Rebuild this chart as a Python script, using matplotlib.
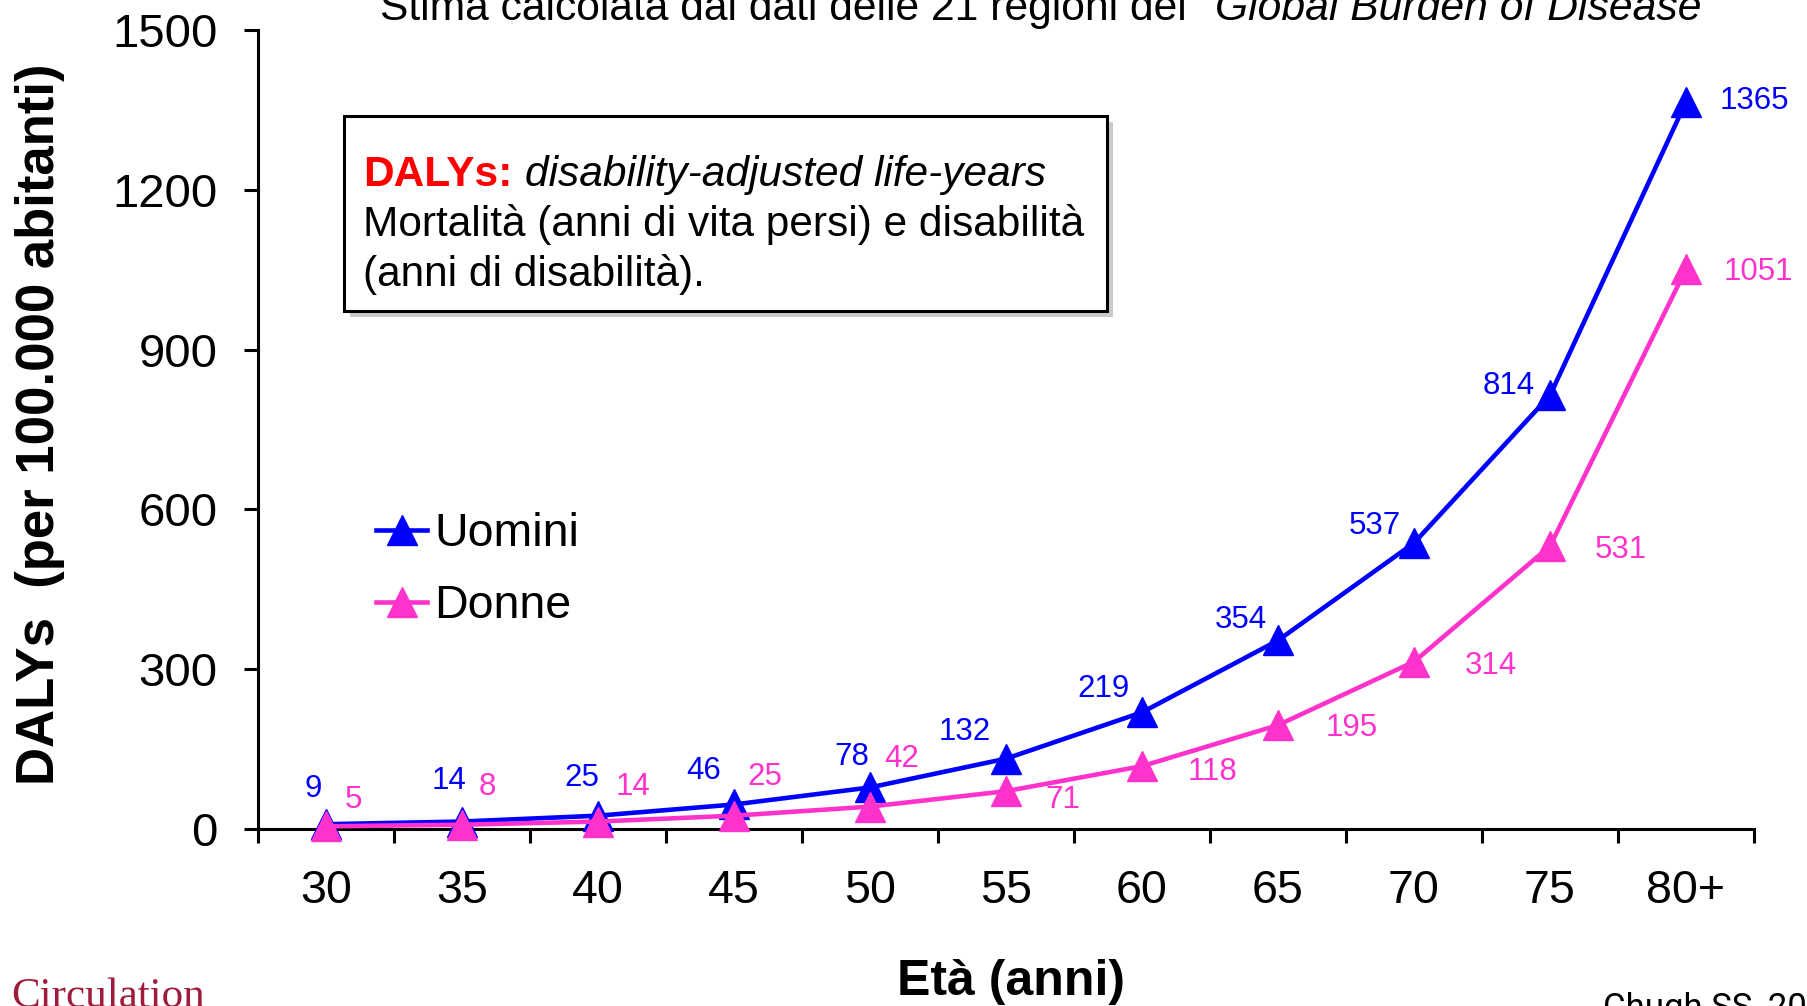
import matplotlib
matplotlib.use('Agg')
import matplotlib.pyplot as plt
from matplotlib.patches import Rectangle
from matplotlib.text import Annotation

plt.rcParams['font.family'] = ['Liberation Sans', 'DejaVu Sans']

# data
eta = ['30', '35', '40', '45', '50', '55', '60', '65', '70', '75', '80+']
uomini = [9, 14, 25, 46, 78, 132, 219, 354, 537, 814, 1365]
donne = [5, 8, 14, 25, 42, 71, 118, 195, 314, 531, 1051]
y_ticks = [0, 300, 600, 900, 1200, 1500]

# label offsets in points (dx, dy)
off_u = [(-9, 25), (-9, 29), (-12, 27), (-22, 24), (-13, 22), (-30, 19),
         (-28, 17), (-27, 15), (-28, 12), (-30, 7), (49, 1)]
off_d = [(20, 19), (18, 27), (25, 25), (22, 28), (23, 34), (41, -6),
         (51, -4), (53, -2), (55, -3), (51, -3), (52, -2)]

BLUE = '#0000ff'
PINK = '#ff33cc'

W, H = 1808, 1006


def fx(px):
    return px / W


def fy(py):
    return 1 - py / H


fig = plt.figure(figsize=(W / 100, H / 100), dpi=100)
ax = fig.add_axes([fx(258), fy(829), (1754 - 258) / W, (829 - 30) / H])

x = list(range(len(eta)))
ax.plot(x, uomini, color=BLUE, lw=3.3, marker='^', ms=21, mew=1,
        label='Uomini', clip_on=False, zorder=3)
ax.plot(x, donne, color=PINK, lw=3.3, marker='^', ms=21, mew=1,
        label='Donne', clip_on=False, zorder=4)

for i in x:
    ax.annotate(str(uomini[i]), (i, uomini[i]), xytext=off_u[i],
                textcoords='offset points', ha='center', va='center',
                color=BLUE, fontsize=22.5)
    ax.annotate(str(donne[i]), (i, donne[i]), xytext=off_d[i],
                textcoords='offset points', ha='center', va='center',
                color=PINK, fontsize=22.5)

ax.set_xlim(-0.5, len(eta) - 0.5)
ax.set_ylim(0, 1500)
ax.set_yticks(y_ticks)
ax.set_xticks([i - 0.5 for i in range(len(eta) + 1)])
ax.set_xticklabels([])
ax.set_xticks(x, minor=True)
ax.set_xticklabels(eta, minor=True)
ax.tick_params(axis='x', which='major', direction='out', length=10, width=2.2)
ax.tick_params(axis='x', which='minor', length=0, pad=28.5, labelsize=33.5)
ax.tick_params(axis='y', direction='out', length=10, width=2.2, pad=19,
               labelsize=34)
for s in ['top', 'right']:
    ax.spines[s].set_visible(False)
for s in ['left', 'bottom']:
    ax.spines[s].set_linewidth(2.2)

ax.legend(loc='center left', bbox_to_anchor=(fx(376), fy(570)),
          bbox_transform=fig.transFigure, frameon=False, fontsize=33.5,
          handlelength=1.1, handletextpad=0.15, labelspacing=0.6,
          borderpad=0, borderaxespad=0)

# axis titles
fig.text(fx(40), fy(424), 'DALYs  (per 100.000 abitanti)', rotation=90,
         ha='center', va='center', fontsize=38, fontweight='bold')
fig.text(fx(1011), fy(995), 'Età (anni)', ha='center', va='baseline',
         fontsize=36, fontweight='bold')

# title (cut at the top in the original)
t = fig.text(fx(380), fy(20), 'Stima calcolata dai dati delle 21 regioni del',
             ha='left', va='baseline', fontsize=30.7)
fig.add_artist(Annotation('Global Burden of Disease', xy=(1, 0), xycoords=t,
                          xytext=(20, 0), textcoords='offset points',
                          ha='left', va='bottom', fontsize=30.7,
                          fontstyle='italic'))

# definition box
bw, bh = (1107 - 344) / W, (311 - 116) / H
fig.patches.append(Rectangle((fx(350), fy(317)), bw, bh,
                             transform=fig.transFigure, facecolor='#999999',
                             edgecolor='none', alpha=0.5, zorder=1))
fig.patches.append(Rectangle((fx(344), fy(311)), bw, bh,
                             transform=fig.transFigure, facecolor='white',
                             edgecolor='black', lw=2.2, zorder=2))
t1 = fig.text(fx(363), fy(186), 'DALYs:', color='#ff0000', fontweight='bold',
              fontsize=30.5, va='baseline', zorder=3)
fig.add_artist(Annotation('disability-adjusted life-years', xy=(1, 0),
                          xycoords=t1, xytext=(9, 0),
                          textcoords='offset points', ha='left', va='bottom',
                          fontsize=30.5, fontstyle='italic', zorder=3))
fig.text(fx(363), fy(236), 'Mortalità (anni di vita persi) e disabilità',
         fontsize=30.5, va='baseline', zorder=3)
fig.text(fx(363), fy(286), '(anni di disabilità).', fontsize=30.5,
         va='baseline', zorder=3)

# source notes at the bottom edge
fig.text(fx(11), fy(1007), 'Circulation', color='#9e1b3c', fontsize=31,
         family=['Liberation Serif', 'DejaVu Serif'], va='baseline')
fig.text(fx(1603), fy(1018), 'Chugh SS, 2014', fontsize=25,
         family=['Roboto', 'DejaVu Sans'], va='baseline')

fig.savefig('out.png', dpi=100)
